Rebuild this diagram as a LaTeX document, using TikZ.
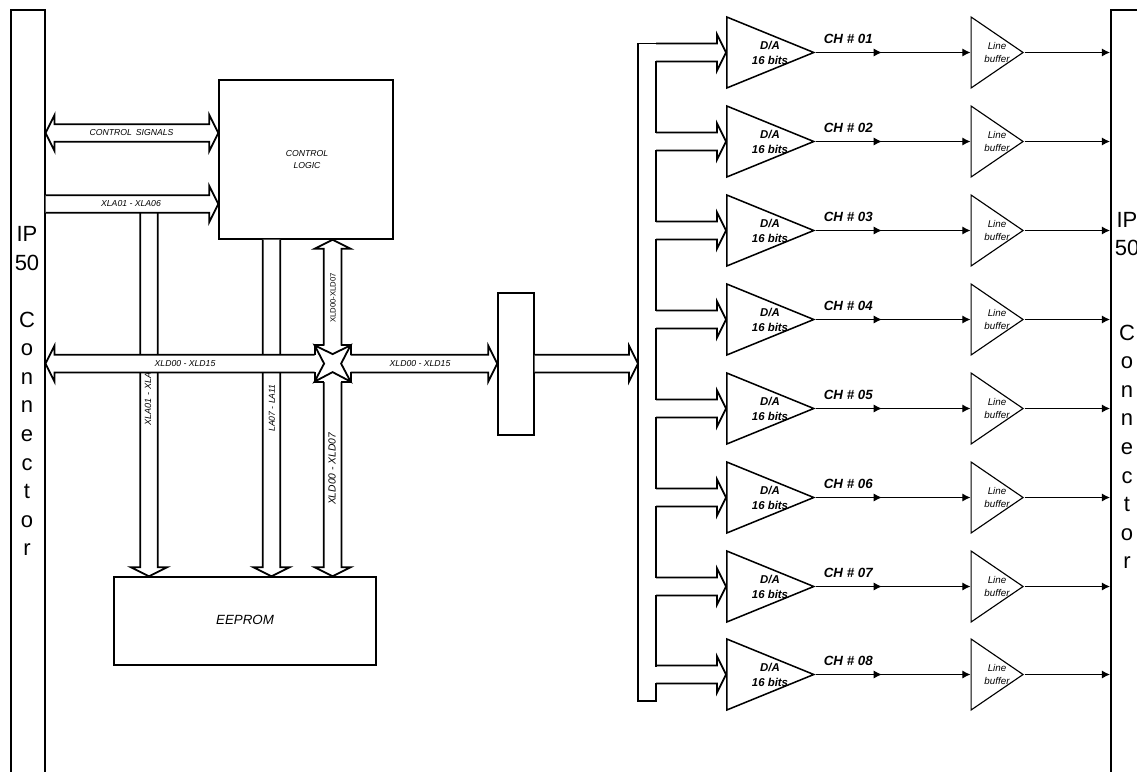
\documentclass[tikz,border=0pt]{standalone}
\usepackage{fontspec}
\setmainfont{Liberation Sans}
\usetikzlibrary{calc,shapes.geometric,arrows.meta}
\newcommand\fs[1]{\fontsize{#1}{#1}\selectfont}
% one-headed block arrow from #1 to #2
\newcommand\busarrow[2]{%
  \coordinate (hA) at (#1);
  \coordinate (hB) at (#2);
  \coordinate (hH) at ($(hB)!6.75pt!(hA)$);
  \coordinate (p1) at ($(hA)!6.6pt!90:(hB)$);
  \coordinate (p2) at ($(hH)!6.6pt!90:(hB)$);
  \coordinate (p3) at ($(hH)!13.5pt!90:(hB)$);
  \coordinate (p4) at ($(hH)!13.5pt!-90:(hB)$);
  \coordinate (p5) at ($(hH)!6.6pt!-90:(hB)$);
  \coordinate (p6) at ($(hA)!6.6pt!-90:(hB)$);
  \fill[white] (p1) -- (p2) -- (p3) -- (hB) -- (p4) -- (p5) -- (p6) -- cycle;
  \draw[busl] (p1) -- (p2) -- (p3) -- (hB) -- (p4) -- (p5) -- (p6);
}
% two-headed block arrow between #1 and #2
\newcommand\busdouble[2]{%
  \coordinate (hA) at (#1);
  \coordinate (hB) at (#2);
  \coordinate (hH) at ($(hB)!6.75pt!(hA)$);
  \coordinate (hG) at ($(hA)!6.75pt!(hB)$);
  \coordinate (p1) at ($(hG)!6.6pt!90:(hB)$);
  \coordinate (p2) at ($(hH)!6.6pt!90:(hB)$);
  \coordinate (p3) at ($(hH)!13.5pt!90:(hB)$);
  \coordinate (p4) at ($(hH)!13.5pt!-90:(hB)$);
  \coordinate (p5) at ($(hH)!6.6pt!-90:(hB)$);
  \coordinate (p6) at ($(hG)!6.6pt!-90:(hB)$);
  \coordinate (p7) at ($(hG)!13.5pt!-90:(hB)$);
  \coordinate (p8) at ($(hG)!13.5pt!90:(hB)$);
  \draw[busl,fill=white] (p1) -- (p2) -- (p3) -- (hB) -- (p4) -- (p5) -- (p6) -- (p7) -- (hA) -- (p8) -- cycle;
}
\tikzset{
  busl/.style={line width=1.35pt,line join=miter,miter limit=10,black},
  boxn/.style={draw,line width=1.1pt,fill=white,rectangle,inner sep=0pt},
  conn/.style={draw,line width=1.15pt,rectangle,inner sep=0pt},
  dac/.style={draw,line width=1.15pt,isosceles triangle,isosceles triangle stretches,inner sep=0pt,minimum width=53.25pt,minimum height=65.25pt,anchor=lower side},
  lbuf/.style={draw,line width=.85pt,isosceles triangle,isosceles triangle stretches,inner sep=0pt,minimum width=53.25pt,minimum height=39pt,anchor=lower side},
  chline/.style={line width=1.3pt},
  thinline/.style={line width=.85pt},
  tip/.style={-{Latex[length=6.2pt,width=6.2pt]}},
  lab/.style={font=\fs{6.5pt}\itshape,inner sep=0pt,align=center},
  dalab/.style={font=\fs{8.55pt}\bfseries\itshape,inner sep=0pt,align=center},
  chlab/.style={font=\fs{10pt}\bfseries\itshape,inner sep=0pt},
  buflab/.style={font=\fs{7.35pt}\itshape,inner sep=0pt,align=center},
  biglab/.style={font=\fs{16.5pt},inner sep=0pt,anchor=base},
}
\begin{document}
\begin{tikzpicture}[x=0.75pt,y=-0.75pt]
\useasboundingbox (0,0) rectangle (1137,771);
\clip (0,0) rectangle (1137,771);
% connectors (open past the page edge)
\node[conn,minimum width=25.5pt,minimum height=600pt,anchor=north west] (lconn) at (10,9) {};
\node[conn,minimum width=60pt,minimum height=600pt,anchor=north west] (rconn) at (1110,9) {};
% left text
\node[biglab] (l1) at (27,241) {IP};
\node[biglab] (l2) at (27,270) {50};
\foreach \c [count=\i from 0] in {C,o,n,n,e,c,t,o,r}{
  \pgfmathsetmacro\yy{327+28.6*\i}
  \node[biglab] (lc\i) at (27,\yy) {\c};
  \pgfmathsetmacro\yr{340+28.6*\i}
  \node[biglab] (rc\i) at (1127,\yr) {\c};
}
\node[biglab] (r1) at (1127,227) {IP};
\node[biglab] (r2) at (1127,255) {50};
% main blocks
\node[boxn,minimum width=130.5pt,minimum height=119.25pt] (ctrl) at (306,159.5) {};
\node[lab] (ctrlt) at (307,159.5) {CONTROL\\[2pt]LOGIC};
\node[boxn,minimum width=196.5pt,minimum height=66pt] (eeprom) at (245,621) {};
\node[font=\fs{10pt}\itshape,inner sep=0pt] (eepromt) at (245,620) {EEPROM};
\coordinate (star) at (332.6,363.6);
\coordinate (xlaV) at (149,213);
\coordinate (laV) at (271.5,239);
% vertical buses (under the horizontal band)
\busarrow{xlaV}{xlaV |- eeprom.north}
\busarrow{laV |- ctrl.south}{laV |- eeprom.north}
\node[lab,rotate=90,font=\fs{6.8pt}\itshape] (xlat) at (148,399) {XLA01 - XLA};
\node[lab,rotate=90] (lat) at (272,408) {LA07 - LA11};
\busarrow{$(star)+(0,-18)$}{star |- ctrl.south}
\busarrow{$(star)+(0,18)$}{star |- eeprom.north}
\node[lab,rotate=90,font=\fs{5.8pt}] (xd1) at (333,298) {XLD00-XLD07};
\node[lab,rotate=90,font=\fs{7.7pt}\itshape] (xd2) at (332,469) {XLD00 - XLD07};
% horizontal buses
\busdouble{lconn.east |- 0,133}{ctrl.west |- 0,133}
\node[lab] (cs) at (131.5,133) {CONTROL\, SIGNALS};
\coordinate (xlaS) at (lconn.east |- 0,204);
\busarrow{xlaS}{ctrl.west |- xlaS}
\node[lab] (xs) at (131,204) {XLA01 - XLA06};
\node[boxn,minimum width=27pt,minimum height=106.5pt] (mux) at (516,364) {};
\busarrow{$(star)+(-18,0)$}{lconn.east |- star}
\node[lab] (xl) at (185,364) {XLD00 - XLD15};
\busarrow{$(star)+(18,0)$}{mux.west |- star}
\node[lab] (xr) at (420,364) {XLD00 - XLD15};
% crossing star
\fill[white,shift={(star)}] (-17.5,-18) rectangle (17.5,18);
\draw[busl,shift={(star)}]
  (-8.7,-18.3) -- (-18,-18.3) -- (-18,-8.7)
  (-18,8.7) -- (-18,18) -- (-8.7,18)
  (8.7,18) -- (18,18) -- (18,8.7)
  (18,-8.7) -- (18,-18.3) -- (8.7,-18.3);
\draw[busl,shift={(star)}] (-18,-18.3) -- (0,-9.5) -- (18,-18.3) -- (8.5,0) -- (18,18) -- (0,8.5) -- (-18,18) -- (-8.5,0) -- cycle;
% channel outputs
\coordinate (bin) at (656,0);
\coordinate (bout) at (638,0);
\foreach \i in {1,...,8}{
  \pgfmathsetmacro\yc{floor(52.7+88.9*(\i-1))+0.5}
  \node[dac] (da\i) at (726,\yc) {};
  \node[lbuf] (lb\i) at (970.5,\yc) {};
  \node[dalab] (dat\i) at (770,\yc) {D/A\\[2.6pt]16 bits};
  \node[buflab] (lbt\i) at (997,\yc) {Line\\[2.6pt]buffer};
  \node[chlab] (cht\i) at (848.3,\yc-13.4) {CH \# 0\i};
  \coordinate (m\i) at (882,\yc);
  \coordinate (tipt\i) at (da\i.lower side);
  \draw[thinline,tip,shorten <=-3pt] (m\i) -- (lb\i.lower side);
  \draw[chline,tip] (da\i.apex) -- (m\i);
  \draw[thinline,tip] (lb\i.apex) -- (rconn.west |- lb\i.apex);
  \draw[busl] (bin |- 0,\yc-9) -- ($(tipt\i)+(-9,-9)$) -- ($(tipt\i)+(-9,-18)$) -- (tipt\i) -- ($(tipt\i)+(-9,18)$) -- ($(tipt\i)+(-9,9)$) -- (bin |- 0,\yc+9);
  \ifnum\i<8
    \draw[busl,line cap=rect] (bin |- 0,\yc+9) -- (bin |- 0,\yc+88.9-9);
  \fi
}
\coordinate (tbus) at (bout |- 0,43.5);
\coordinate (bbus) at (bout |- 0,701);
\draw[busl,line cap=rect] (bin |- 0,683.5) -- (bin |- bbus) -- (bbus) -- (tbus) -- (bin |- tbus);
\busarrow{mux.east |- star}{bout |- star}
\end{tikzpicture}
\end{document}
